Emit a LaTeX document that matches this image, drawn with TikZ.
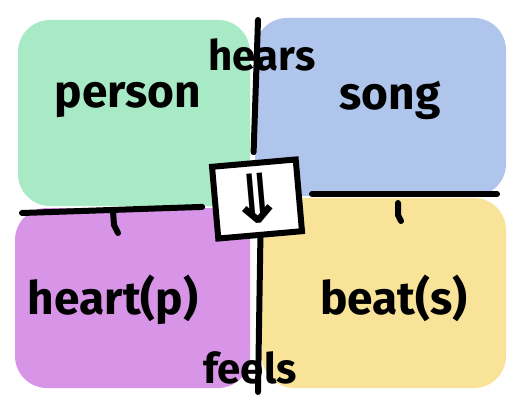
\documentclass[tikz,border=0pt]{standalone}
\usepackage{fontspec}
\setmainfont{Fira Sans}
\newfontfamily\arrowfont{DejaVu Sans}
\usetikzlibrary{positioning,calc}
\definecolor{qGreen}{RGB}{168,234,198}
\definecolor{qBlue}{RGB}{176,197,236}
\definecolor{qPurple}{RGB}{216,148,230}
\definecolor{qYellow}{RGB}{248,227,152}
\tikzset{
  blob/.style={rounded corners=16pt},
  inkln/.style={line width=3pt, line cap=round, line join=round},
  hubbox/.style={draw, line width=3pt, fill=white, minimum width=42pt, minimum height=36pt, inner sep=0pt},
  word/.style={font=\bfseries\fontsize{23}{28}\selectfont},
  verb/.style={font=\bfseries\fontsize{21}{25}\selectfont},
}

\begin{document}
\begin{tikzpicture}[x=0.5pt, y=-0.5pt]
        \useasboundingbox (0,0) rectangle (517,405);
        % quadrants
        \fill[blob, qGreen] (18,20) rectangle (250,206);
        \fill[blob, qBlue] (255,18) rectangle (506,196);
        \fill[blob, qPurple] (15,208) rectangle (250,388);
        \fill[blob, qYellow] (262,198) rectangle (506,388);
        \node[word] (person) at (128,100) {person};
        \node[word] (song) at (390,100) {song};
        \node[word] (heart) at (113,300) {heart(p)};
        \node[word] (beat) at (394,298) {beat(s)};
        % centre
        \node[hubbox, rotate=5, font=\arrowfont\bfseries\fontsize{34}{40}\selectfont, text height=28pt, text depth=4pt] (hub) at (257,199) {⇓};
        \coordinate (topend) at (258,20);
        \coordinate (botend) at (258,392);
        \coordinate (lftend) at (22,213);
        \coordinate (rgtend) at (497,194);
        \draw[inkln] (topend) -- ($(hub.north)+(0,-8)$);
        \draw[inkln] (hub.south) -- (botend);
        \draw[inkln] (lftend) -- ($(hub.west)+(-10,4)$);
        \draw[inkln] (rgtend) -- (312,194);
        \draw[inkln] (113,211) -- (114,225) -- (118,233);
        \draw[inkln] (398,203) -- (398,215) -- (401,221);
        \node[verb] (hears) at (262,55) {hears};
        \node[verb] (feels) at (250,368) {feels};
      \end{tikzpicture}
\end{document}
